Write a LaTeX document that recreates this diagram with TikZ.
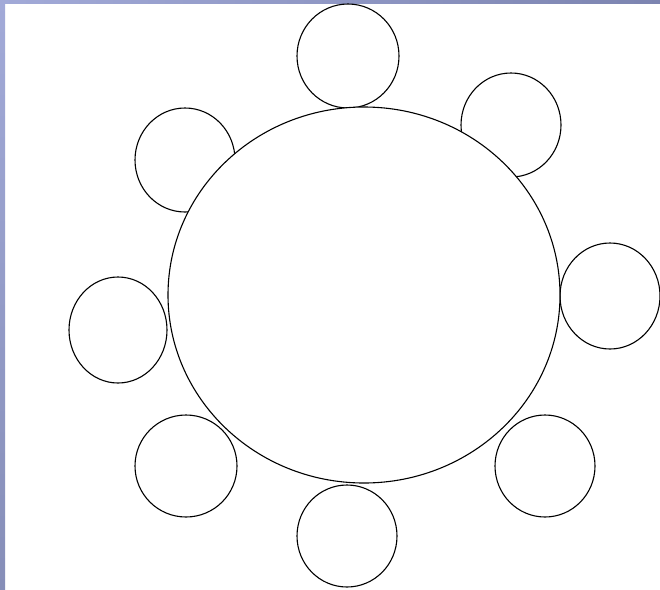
\documentclass[tikz,border=0pt]{standalone}
\definecolor{stripA}{RGB}{162,170,216}
\definecolor{stripB}{RGB}{134,142,184}
\definecolor{stripC}{RGB}{124,132,176}
\begin{document}
\begin{tikzpicture}[x=1pt,y=-1pt,
  seat/.style={draw=black,line width=1.1pt},
  tablering/.style={draw=black,fill=white,line width=1.1pt}]
\useasboundingbox (0,0) rectangle (660,589);
\fill[white] (0,0) rectangle (660,589);
% frame strips
\shade[top color=stripA,bottom color=stripB] (0,0) rectangle (5,589);
\shade[left color=stripA,right color=stripC] (0,0) rectangle (660,3);
% seats
\draw[seat] (348,56) ellipse (51 and 52);
\draw[seat] (511,125) ellipse (50 and 52);
\draw[seat] (610,296) ellipse (50 and 53);
\draw[seat] (545,466) ellipse (50 and 51);
\draw[seat] (347,536) ellipse (50 and 51);
\draw[seat] (186,466) ellipse (51 and 51);
\draw[seat] (118,330) ellipse (49 and 53);
\draw[seat] (185,160) ellipse (50 and 52);
% table drawn over the seats
\draw[tablering] (364,295) ellipse (196 and 188);
\end{tikzpicture}
\end{document}
